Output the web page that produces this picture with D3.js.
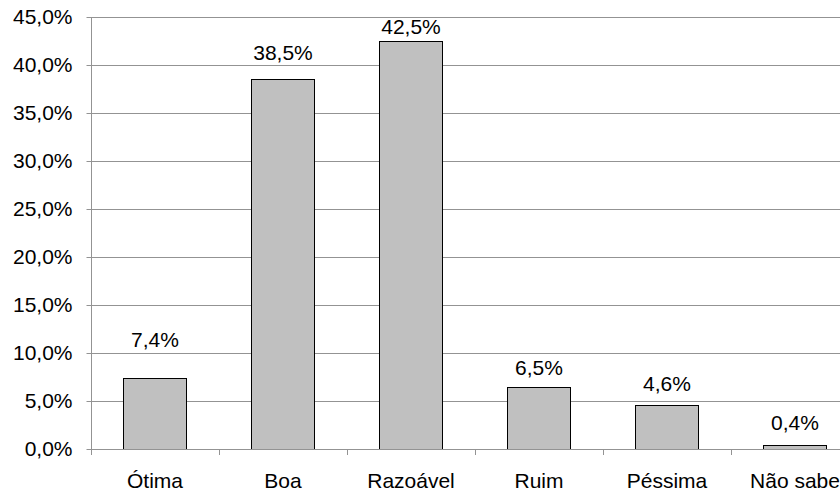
<!DOCTYPE html>
<html>
<head>
<meta charset="utf-8">
<script src="https://cdn.jsdelivr.net/npm/d3@7"></script>
<style>
  html, body { margin: 0; padding: 0; background: #fff; }
  svg { display: block; }
  text { font-family: "Liberation Sans", Arial, sans-serif; fill: #000; }
</style>
</head>
<body>
<div id="chart"></div>
<script>
// Survey answers and their shares (%)
const categories = ["Ótima", "Boa", "Razoável", "Ruim", "Péssima", "Não sabe"];
const values = [7.4, 38.5, 42.5, 6.5, 4.6, 0.4];
const yTicks = [0, 5, 10, 15, 20, 25, 30, 35, 40, 45];

const width = 840, height = 495;
const fontSize = "21px";
const fmt = v => v.toFixed(1).replace(".", ",") + "%";

// distance (px) between each value label's baseline and its bar top
const labelLift = [31, 19, 7, 12, 14, 15];

const svg = d3.select("#chart").append("svg")
  .attr("width", width).attr("height", height);

const x0 = 91, y0 = 449, yTop = 17;
// the category axis runs past the right edge of the page
const x = d3.scaleBand().domain(categories).range([x0, x0 + 128 * categories.length])
  .paddingInner(0.5).paddingOuter(0.25);
const y = d3.scaleLinear().domain([0, 45]).range([y0, yTop]);

// horizontal grid lines
svg.append("g").selectAll("line").data(yTicks.filter(t => t > 0)).join("line")
  .attr("x1", x0).attr("x2", width)
  .attr("y1", d => Math.round(y(d)) + 0.5).attr("y2", d => Math.round(y(d)) + 0.5)
  .attr("stroke", "#939393").attr("stroke-width", 1);

// y axis
const yAxis = svg.append("g").attr("transform", `translate(${x0 + 0.5},0)`)
  .call(d3.axisLeft(y).tickValues(yTicks).tickFormat(fmt).tickSize(5).tickPadding(14));
yAxis.attr("font-size", null).attr("font-family", null);
yAxis.select(".domain").attr("stroke", "#939393").attr("d", `M0,${y0}V${yTop}`);
yAxis.selectAll(".tick line").attr("stroke", "#939393");
yAxis.selectAll(".tick").attr("transform", d => `translate(0,${Math.round(y(d)) + 0.5})`);
yAxis.selectAll("text").style("font-size", fontSize).attr("fill", "#000");

// bars
svg.append("g").selectAll("rect").data(values).join("rect")
  .attr("x", (d, i) => Math.round(x(categories[i])) + 0.5)
  .attr("width", Math.round(x.bandwidth()) - 1)
  .attr("y", d => Math.round(y(d)) + 0.5)
  .attr("height", d => y0 - Math.round(y(d)))
  .attr("fill", "#c0c0c0").attr("stroke", "#000").attr("stroke-width", 1);

// x axis
const step = x.step();
const xAxisG = svg.append("g");
xAxisG.append("line").attr("x1", x0).attr("x2", width)
  .attr("y1", y0 + 0.5).attr("y2", y0 + 0.5).attr("stroke", "#939393");
xAxisG.selectAll(".xt").data(d3.range(categories.length + 1)).join("line")
  .attr("class", "xt")
  .attr("x1", i => x0 + i * step + 0.5).attr("x2", i => x0 + i * step + 0.5)
  .attr("y1", y0).attr("y2", y0 + 6).attr("stroke", "#939393");

// category labels
svg.append("g").selectAll("text").data(categories).join("text")
  .attr("x", d => x(d) + x.bandwidth() / 2)
  .attr("y", 488)
  .attr("text-anchor", "middle")
  .style("font-size", fontSize)
  .text(d => d);

// value labels above bars
svg.append("g").selectAll("text").data(values).join("text")
  .attr("x", (d, i) => x(categories[i]) + x.bandwidth() / 2)
  .attr("y", (d, i) => y(d) - labelLift[i])
  .attr("text-anchor", "middle")
  .style("font-size", fontSize)
  .text(d => fmt(d));
</script>
</body>
</html>
